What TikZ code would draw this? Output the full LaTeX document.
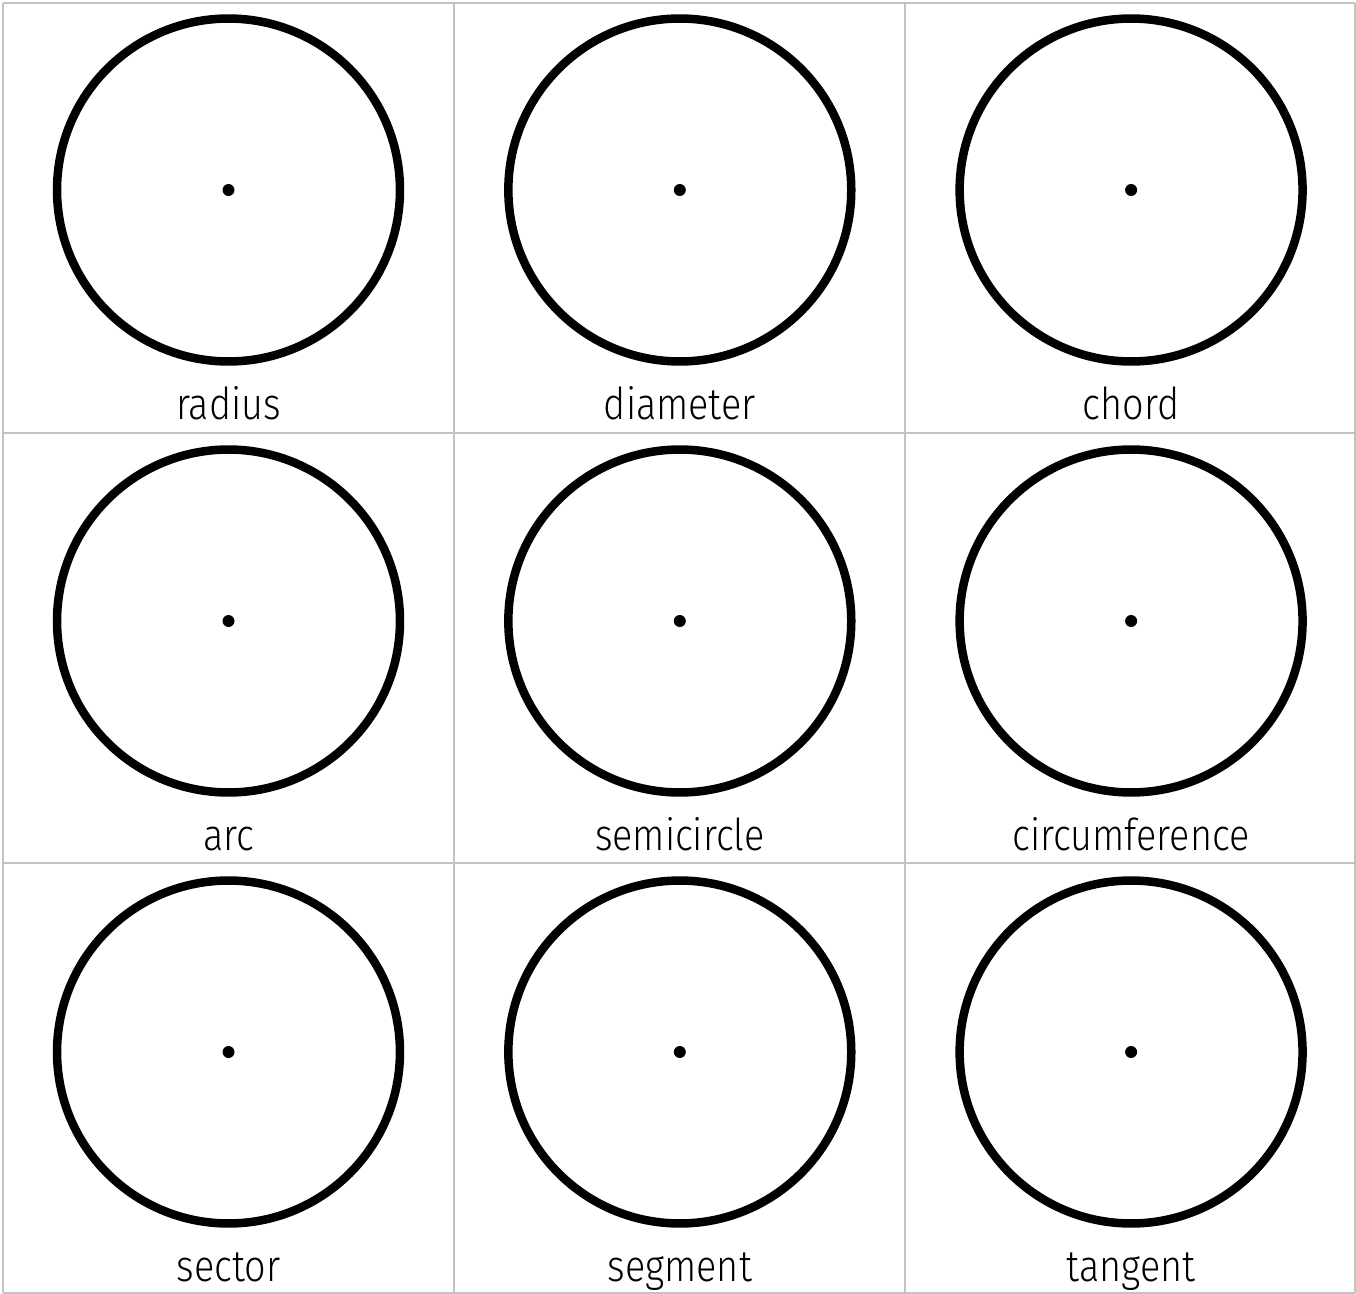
\documentclass[tikz,border=0pt]{standalone}
\usepackage{fontspec}
\setmainfont{Fira Sans Light}[FakeStretch=0.86]
\usepackage{tikz}
\definecolor{gridgray}{HTML}{C2C2C2}
\tikzset{
  gridline/.style={draw=gridgray, line width=0.045cm},
  ring/.style={circle, draw=black, line width=0.17cm, minimum size=6.86cm,
               inner sep=0pt},
  ctr/.style={circle, fill=black, minimum size=0.24cm, inner sep=0pt},
  term/.style={font=\fontsize{25}{28}\selectfont, inner sep=0pt, anchor=base},
}

\begin{document}
\begin{tikzpicture}[x=0.02cm, y=-0.02cm]
  \useasboundingbox (0,0) rectangle (1356,1294);
  % ---------------- grid ----------------
  \foreach \gx in {3,454,905,1355}
    \draw[gridline] (\gx,3) -- (\gx,1293);
  \foreach \gy in {3,433,863,1293}
    \draw[gridline] (3,\gy) -- (1355,\gy);
  % ---------------- circles ----------------
  \foreach \name [count=\i from 0] in {radius,diameter,chord,arc,semicircle,
                                       circumference,sector,segment,tangent} {
    \pgfmathtruncatemacro\col{mod(\i,3)}
    \pgfmathtruncatemacro\row{div(\i,3)}
    \coordinate (c\i) at (228.5+451.3*\col, 190+431*\row);
    \node[ring] (ring\i) at (c\i) {};
    \node[ctr]  (dot\i)  at (c\i) {};
    \node[term] (lab\i)  at (228.5+451.3*\col, 419.5+431*\row) {\name};
  }
\end{tikzpicture}
\end{document}
